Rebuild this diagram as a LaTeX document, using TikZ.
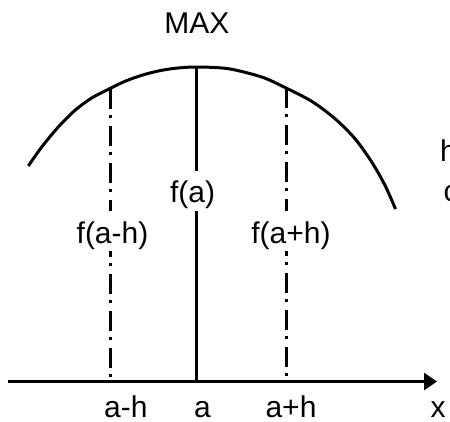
\documentclass[tikz,border=0pt]{standalone}
\usepackage{fontspec}
\setmainfont{Liberation Sans}
\usetikzlibrary{arrows.meta}
\begin{document}
\begin{tikzpicture}[x=1pt,y=-1pt,
  lbl/.style={font=\fontsize{30pt}{36pt}\selectfont, inner sep=0pt, anchor=base},
  gaplbl/.style={lbl, fill=white, inner xsep=1pt, text height=32pt, text depth=8pt},
  thick line/.style={line width=3pt},
  dashdotline/.style={line width=3pt, dash pattern=on 20pt off 6pt on 3pt off 8pt}]
\useasboundingbox (0,0) rectangle (450,421);
\clip (0,0) rectangle (450,421);
% curve
\draw[thick line] plot[smooth, tension=0.5] coordinates
  {(28.3,166) (41.7,147) (58.3,127) (75,110.3) (91.7,98) (110,88.5) (125,81.3) (141.7,75.3) (158.3,71) (175,68.3) (196.5,67)
   (228.3,68.7) (261.7,77) (285,87.5) (311.7,101.3) (335,118.7) (355,138.7) (371.7,162) (385,185.3) (395.5,209)};
% points on the curve and on the axis
\coordinate (tl) at (110.5,88.5);
\coordinate (tc) at (196.5,67);
\coordinate (tr) at (286.5,88);
\coordinate (bl) at (110.5,381);
\coordinate (bc) at (196.5,381);
\coordinate (br) at (286.5,381);
\coordinate (xs) at (8,381.5);
\coordinate (xe) at (437,381.5);
% vertical lines
\draw[thick line] (tc) -- (bc);
\draw[dashdotline] (tl) -- (bl);
\draw[dashdotline] (tr) -- (br);
% axis
\draw[thick line, -{Triangle[length=13pt,width=17pt]}] (xs) -- (xe);
% labels
\node[lbl] (max) at (197,33.3) {MAX};
\node[gaplbl] (fa) at (192.5,202.7) {f(a)};
\node[gaplbl] (fam) at (112.5,243.3) {f(a-h)};
\node[gaplbl] (fap) at (291,243.3) {f(a+h)};
\node[lbl] (am) at (125.8,417.5) {a-h};
\node[lbl] (a) at (202.5,417.5) {a};
\node[lbl] (ap) at (291,417.5) {a+h};
\node[lbl] (x) at (438,417.5) {x};
\node[lbl, anchor=base west] (h) at (440,161) {h};
\node[lbl, anchor=base west] (c) at (443.5,201.7) {c};
\end{tikzpicture}
\end{document}
